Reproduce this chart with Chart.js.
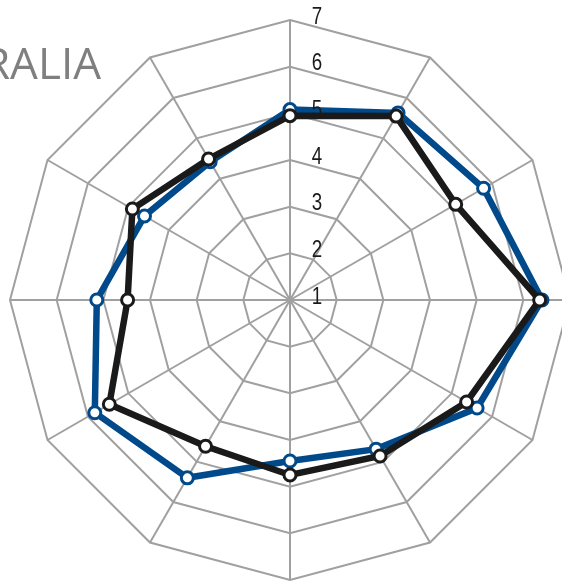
<!DOCTYPE html>
<html>
<head>
<meta charset="utf-8">
<script src="https://cdn.jsdelivr.net/npm/chart.js@4.4.1/dist/chart.umd.min.js"></script>
<style>
    html, body { margin: 0; padding: 0; background: #fff; overflow: hidden; width: 562px; height: 582px; }
    #chart { position: absolute; left: 0; top: 0; }
</style>
</head>
<body>
<canvas id="chart" width="600" height="600"></canvas>
<script>
// 12 spokes, clockwise from the top
const categories = ['Jan', 'Feb', 'Mar', 'Apr', 'May', 'Jun', 'Jul', 'Aug', 'Sep', 'Oct', 'Nov', 'Dec'];
const blueSeries = [5.08, 5.63, 5.79, 6.4, 5.63, 4.69, 4.45, 5.4, 5.83, 5.14, 4.6, 4.42];
const blackSeries = [4.95, 5.55, 5.1, 6.35, 5.37, 4.86, 4.75, 4.62, 5.47, 4.48, 4.9, 4.49];
const tickValues = [1, 2, 3, 4, 5, 6, 7];
const titleText = 'AUSTRALIA';

// tick labels sit to the right of the vertical spoke, in a narrow face
const tickLabelPlugin = {
    id: 'tickLabels',
    afterDatasetsDraw(chart) {
        const scale = chart.scales.r;
        const ctx = chart.ctx;
        tickValues.forEach(v => {
            const d = scale.getDistanceFromCenterForValue(v);
            ctx.save();
            ctx.translate(scale.xCenter + 27, scale.yCenter - d - 3);
            ctx.scale(0.78, 1);
            ctx.font = '24px "Liberation Sans", sans-serif';
            ctx.fillStyle = '#1a1a1a';
            ctx.textAlign = 'center';
            ctx.textBaseline = 'middle';
            ctx.fillText(String(v), 0, 0);
            ctx.restore();
        });
    }
};

const titlePlugin = {
    id: 'cutTitle',
    afterDraw(chart) {
        const ctx = chart.ctx;
        ctx.save();
        ctx.font = '44px "Open Sans", sans-serif';
        ctx.fillStyle = '#7f7f7f';
        ctx.textAlign = 'right';
        ctx.textBaseline = 'alphabetic';
        ctx.fillText(titleText, 101, 79);
        ctx.restore();
    }
};

new Chart(document.getElementById('chart'), {
    type: 'radar',
    data: {
        labels: categories,
        datasets: [{
            label: 'Series 2',
            data: blackSeries,
            borderColor: '#1a1a1a',
            borderWidth: 6.5,
            pointRadius: 6,
            pointBorderWidth: 3,
            pointBackgroundColor: '#fff',
            pointBorderColor: '#1a1a1a',
            fill: false,
            tension: 0,
            order: 0
        }, {
            label: 'Series 1',
            data: blueSeries,
            borderColor: '#004a8b',
            borderWidth: 6.5,
            pointRadius: 6,
            pointBorderWidth: 3,
            pointBackgroundColor: '#fff',
            pointBorderColor: '#004a8b',
            fill: false,
            tension: 0,
            order: 1
        }]
    },
    options: {
        responsive: false,
        animation: false,
        layout: {
            padding: { left: 10, top: 20, right: 30, bottom: 20 }
        },
        plugins: {
            legend: { display: false },
            tooltip: { enabled: false }
        },
        scales: {
            r: {
                min: 1,
                max: 7,
                ticks: { display: false, stepSize: 1 },
                pointLabels: { display: false },
                grid: { color: '#a0a0a0', lineWidth: 2 },
                angleLines: { color: '#a0a0a0', lineWidth: 2 }
            }
        }
    },
    plugins: [tickLabelPlugin, titlePlugin]
});
</script>
</body>
</html>
